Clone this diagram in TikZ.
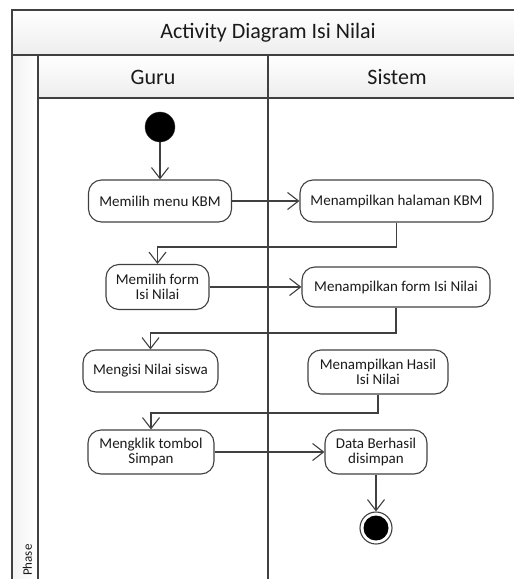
\documentclass[tikz,border=0pt]{standalone}
\usepackage{fontspec}
\setmainfont{Carlito}
\usetikzlibrary{arrows.meta,shadings}
\definecolor{linecol}{HTML}{404040}
\definecolor{txtcol}{HTML}{1A1A1A}
\tikzset{
  act/.style={draw=linecol, line width=1.1pt, rounded corners=13pt, align=center,
    font=\fontsize{15}{15.5}\selectfont, text=txtcol, inner sep=0pt},
  arr/.style={draw=linecol, line width=1.1pt, -{Straight Barb[length=11pt,width=17pt,line width=1.1pt]}},
  flow/.style={draw=linecol, line width=1.1pt},
  frame/.style={draw=linecol, line width=1.1pt},
  hdr/.style={frame, top color=white, bottom color=gray!14},
}
\begin{document}
\begin{tikzpicture}[x=1pt,y=-1pt]
\useasboundingbox (0,0) rectangle (514,579);
\clip (0,0) rectangle (514,579);
% frame
\path[hdr] (12,10) rectangle (530,55);
\node[font=\fontsize{22}{24}\selectfont, text=txtcol] (title) at (268,33) {Activity Diagram Isi Nilai};
\path[frame, left color=gray!10, right color=white] (12,55) rectangle (38,600);
\path[hdr] (38,55) rectangle (268,98);
\path[hdr] (268,55) rectangle (530,98);
\node[font=\fontsize{22}{24}\selectfont, text=txtcol] (guru) at (153,77) {Guru};
\node[font=\fontsize{22}{24}\selectfont, text=txtcol] (sistem) at (397,77) {Sistem};
\draw[frame] (38,98) -- (38,600);
\draw[frame] (268,98) -- (268,600);
\node[rotate=90, anchor=west, font=\fontsize{13}{14}\selectfont, text=txtcol, inner sep=0pt] (phase) at (27.5,576) {Phase};
% nodes
\node[circle, fill=black, draw=linecol, minimum size=30pt, inner sep=0pt] (start) at (160,127) {};
\node[act, minimum width=143pt, minimum height=42pt] (a1) at (160,201) {Memilih menu KBM};
\node[act, minimum width=193pt, minimum height=42pt] (b1) at (396.5,201) {Menampilkan halaman KBM};
\node[act, minimum width=103pt, minimum height=45pt] (a2) at (157.5,287) {Memilih form\\Isi Nilai};
\node[act, minimum width=188pt, minimum height=40pt] (b2) at (396,287) {Menampilkan form Isi Nilai};
\node[act, minimum width=135pt, minimum height=42pt] (a3) at (150.5,371) {Mengisi Nilai siswa};
\node[act, minimum width=140pt, minimum height=44pt] (b3) at (378,372) {Menampilkan Hasil\\Isi Nilai};
\node[act, minimum width=126pt, minimum height=44pt] (a4) at (151,452) {Mengklik tombol\\Simpan};
\node[act, minimum width=102pt, minimum height=44pt] (b4) at (376,452) {Data Berhasil\\disimpan};
\node[circle, draw=linecol, line width=1.1pt, minimum size=32pt, inner sep=0pt] (end) at (376,528) {};
\node[circle, fill=black, minimum size=25pt, inner sep=0pt] (endin) at (end) {};
\coordinate (k1) at (0,247);
\coordinate (k2) at (0,333);
\coordinate (k3) at (0,413);
% connectors
\draw[arr] (start) -- (a1.north);
\draw[arr] (a1.east) -- (b1.west);
\draw[arr] (b1.south) -- (b1.south |- k1) -- (a2.north |- k1) -- (a2.north);
\draw[arr] (a2.east) -- (b2.west);
\draw[arr] (b2.south) -- (b2.south |- k2) -- (a3.north |- k2) -- (a3.north);
\draw[arr] (b3.south) -- (b3.south |- k3) -- (a4.north |- k3) -- (a4.north);
\draw[arr] (a4.east) -- (b4.west);
\draw[arr] (b4.south) -- (end.north);
\end{tikzpicture}
\end{document}
